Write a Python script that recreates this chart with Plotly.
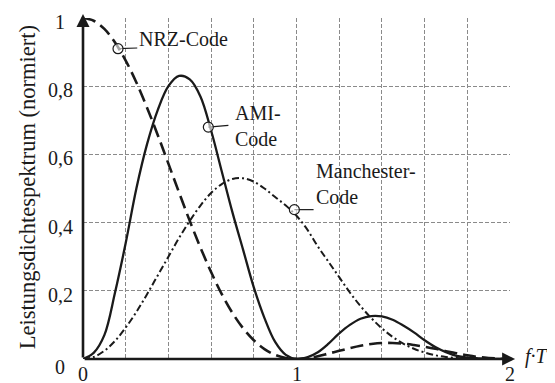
import plotly.graph_objects as go

# ---- data ----
f_T = [round(0.05 * i, 2) for i in range(41)]

nrz = [1.000, 0.992, 0.968, 0.928, 0.875, 0.811, 0.737, 0.657, 0.573, 0.488,
       0.405, 0.327, 0.255, 0.190, 0.135, 0.090, 0.055, 0.029, 0.012, 0.003,
       0.000, 0.003, 0.008, 0.016, 0.024, 0.032, 0.039, 0.044, 0.047, 0.047,
       0.045, 0.041, 0.036, 0.030, 0.023, 0.017, 0.011, 0.006, 0.003, 0.001,
       0.000]

ami = [0.000, 0.018, 0.070, 0.195, 0.340, 0.500, 0.630, 0.730, 0.800, 0.830,
       0.820, 0.770, 0.670, 0.550, 0.430, 0.320, 0.210, 0.120, 0.050, 0.012,
       0.000, 0.005, 0.020, 0.045, 0.075, 0.100, 0.118, 0.126, 0.125, 0.115,
       0.098, 0.078, 0.055, 0.035, 0.020, 0.009, 0.004, 0.002, 0.001, 0.000,
       0.000]

manchester = [0.000, 0.006, 0.024, 0.053, 0.092, 0.138, 0.190, 0.245, 0.300, 0.355,
              0.405, 0.450, 0.487, 0.513, 0.528, 0.530, 0.520, 0.500, 0.475, 0.450,
              0.420, 0.380, 0.330, 0.285, 0.240, 0.195, 0.155, 0.120, 0.090, 0.065,
              0.045, 0.030, 0.019, 0.011, 0.006, 0.003, 0.0012, 0.0004, 0.0001, 0.0,
              0.0]

y_tick_vals = [0, 0.2, 0.4, 0.6, 0.8, 1.0]
y_tick_text = ["0", "0,2", "0,4", "0,6", "0,8", "1"]
x_grid_vals = [round(0.2 * i, 1) for i in range(11)]
x_tick_vals = [0, 1, 2]
x_tick_text = ["0", "1", "2"]

# label anchors (marker on curve, end of leader line, text position)
labels = ["NRZ-Code", "AMI-<br>Code", "Manchester-<br>Code"]
marker_x = [0.164, 0.587, 0.99]
marker_y = [0.91, 0.68, 0.438]
leader_end_x = [0.254, 0.681, 1.08]
leader_end_y = [0.912, 0.685, 0.438]
text_x = [0.254, 0.704, 1.08]
text_y = [0.938, 0.682, 0.513]

FONT = "Liberation Serif"
INK = "#1a1a1a"

fig = go.Figure()

fig.add_trace(go.Scatter(x=f_T, y=manchester, mode="lines", line_shape="spline",
                         line=dict(color=INK, width=2.0, dash="7px,3px,2px,3px"),
                         cliponaxis=False, showlegend=False))
fig.add_trace(go.Scatter(x=f_T, y=nrz, mode="lines", line_shape="spline",
                         line=dict(color=INK, width=2.6, dash="13px,6px"),
                         cliponaxis=False, showlegend=False))
fig.add_trace(go.Scatter(x=f_T, y=ami, mode="lines", line_shape="spline",
                         line=dict(color=INK, width=2.3),
                         cliponaxis=False, showlegend=False))

# leader lines and circle markers
for mx, my, lx, ly in zip(marker_x, marker_y, leader_end_x, leader_end_y):
    fig.add_trace(go.Scatter(x=[mx, lx], y=[my, ly], mode="lines",
                             line=dict(color=INK, width=1.2),
                             cliponaxis=False, showlegend=False))
fig.add_trace(go.Scatter(x=marker_x, y=marker_y, mode="markers",
                         marker=dict(symbol="circle", size=10, color="rgba(255,255,255,0.6)",
                                     line=dict(color=INK, width=1.2)),
                         cliponaxis=False, showlegend=False))

annotations = []
for t, tx, ty in zip(labels, text_x, text_y):
    annotations.append(dict(x=tx, y=ty, xref="x", yref="y", text=t, showarrow=False,
                            xanchor="left", yanchor="middle", align="left",
                            font=dict(family=FONT, size=20, color=INK)))

# tick labels
for v, t in zip(y_tick_vals, y_tick_text):
    annotations.append(dict(x=0, y=v, xref="x", yref="y", text=t, showarrow=False,
                            xanchor="center", yanchor="middle", xshift=-23,
                            yshift=-4 if v > 0 else -8,
                            font=dict(family=FONT, size=20, color=INK)))
for v, t in zip(x_tick_vals, x_tick_text):
    annotations.append(dict(x=v, y=0, xref="x", yref="y", text=t, showarrow=False,
                            xanchor="center", yanchor="middle", yshift=-15,
                            font=dict(family=FONT, size=20, color=INK)))

# axis arrows
annotations.append(dict(x=1.012, y=0, xref="paper", yref="paper", text="",
                        showarrow=True, axref="pixel", ayref="pixel", ax=-432, ay=0,
                        arrowhead=2, arrowsize=1, arrowwidth=2.6, arrowcolor=INK,
                        standoff=0, startstandoff=0))
annotations.append(dict(x=0, y=1.012, xref="paper", yref="paper", text="",
                        showarrow=True, axref="pixel", ayref="pixel", ax=0, ay=345,
                        arrowhead=2, arrowsize=1, arrowwidth=2.6, arrowcolor=INK,
                        standoff=0, startstandoff=0))

# axis titles
annotations.append(dict(x=1.03, y=0, xref="paper", yref="paper", text="<i>f·T</i>",
                        showarrow=False, xanchor="left", yanchor="middle", yshift=3,
                        font=dict(family=FONT, size=20, color=INK)))
annotations.append(dict(x=-0.13, y=0.505, xref="paper", yref="paper",
                        text="Leistungsdichtespektrum (normiert)", textangle=-90,
                        showarrow=False, xanchor="center", yanchor="middle",
                        font=dict(family=FONT, size=22.5, color=INK)))

grid = dict(showgrid=True, gridcolor="#8a8a8a", gridwidth=1, griddash="4px,2px",
            zeroline=False, showline=False, showticklabels=False, ticks="")

# the page adds an 8px body margin, so the figure is 8px smaller than the window
fig.update_layout(
    width=547, height=375,
    margin=dict(l=75, r=45, t=10, b=24),
    paper_bgcolor="white", plot_bgcolor="white",
    font=dict(family=FONT, color=INK),
    xaxis=dict(range=[0, 2], tickmode="array", tickvals=x_grid_vals, **grid),
    yaxis=dict(range=[0, 1], tickmode="array", tickvals=y_tick_vals, **grid),
    annotations=annotations,
    showlegend=False,
)

fig.write_html("out.html")
